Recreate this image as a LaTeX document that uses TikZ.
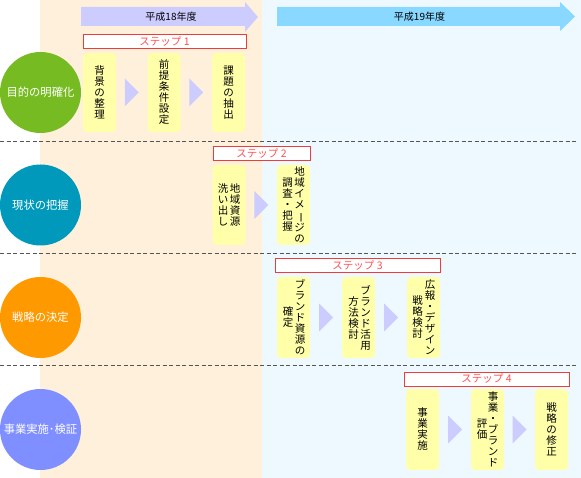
\documentclass[tikz,border=0pt]{standalone}
\usepackage{fontspec}
\usepackage{graphicx}
\setmainfont{Noto Sans CJK JP}
\newfontfamily\jp{Noto Sans CJK JP}
\usetikzlibrary{calc}
\definecolor{beigebg}{HTML}{FFF0DC}
\definecolor{bluebg}{HTML}{EEF9FF}
\definecolor{arrowA}{HTML}{CCCCFF}
\definecolor{arrowB}{HTML}{88D8FF}
\definecolor{yellowbox}{HTML}{FFFFAA}
\definecolor{tricol}{HTML}{CCCCFF}
\definecolor{stepred}{HTML}{EE3B3B}
\definecolor{steptext}{HTML}{FF5050}
\definecolor{cgreen}{HTML}{77BB22}
\definecolor{cteal}{HTML}{0099BB}
\definecolor{corange}{HTML}{FF9900}
\definecolor{cblue}{HTML}{7F8FFF}
\definecolor{dashgray}{HTML}{555555}
\newcommand\flowtri[2]{%
  \path ($(#1.east)!0.5!(#2.west)$) coordinate (m#1#2);
  \fill[tricol] ($(m#1#2)+(-7,-14)$) -- ($(m#1#2)+(7,0)$) -- ($(m#1#2)+(-7,14)$) -- cycle;}
\newcommand\vbar{\rotatebox[origin=c]{-90}{ー}}
\begin{document}
\begin{tikzpicture}[x=1pt,y=-1pt,
  phase/.style={circle,minimum size=81pt,inner sep=0pt,text=white,font=\jp\fontsize{11.3}{12}\selectfont},
  task/.style={fill=yellowbox,rounded corners=4pt,minimum width=33pt,minimum height=80pt,inner sep=0pt},
  vcol/.style={align=center,inner sep=0pt,font=\jp\fontsize{10.5}{11}\selectfont},
  stepbox/.style={draw=stepred,line width=1pt,fill=white,inner sep=0pt,minimum height=14pt,text=steptext,font=\jp\fontsize{10.5}{12}\selectfont},
  sep/.style={draw=dashgray,line width=1pt,dash pattern=on 4pt off 2.5pt},
  yeartext/.style={font=\jp\fontsize{10}{12}\selectfont,inner sep=0pt},
]
\useasboundingbox (0,0) rectangle (581,478);
% backgrounds
\fill[beigebg] (40,0) rectangle (262,478);
\fill[bluebg] (262,0) rectangle (581,478);
% year arrows
\fill[arrowA] (81,7) -- (245,7) -- (245,2) -- (258,17) -- (245,32) -- (245,26) -- (81,26) -- cycle;
\node[yeartext] (y18) at (171,16.5) {平成18年度};
\fill[arrowB] (277,7) -- (560,7) -- (560,2) -- (575,16.5) -- (560,31) -- (560,26) -- (277,26) -- cycle;
\node[yeartext] (y19) at (419.5,16.5) {平成19年度};
% separators
\draw[sep] (0,141.5) -- (578,141.5);
\draw[sep] (0,254) -- (578,254);
\draw[sep] (0,365.5) -- (578,365.5);
% phases
\node[phase,fill=cgreen] (p1) at (40.5,92.5) {目的の明確化};
\node[phase,fill=cteal] (p2) at (40.5,205) {現状の把握};
\node[phase,fill=corange] (p3) at (40.5,317.5) {戦略の決定};
\node[phase,fill=cblue] (p4) at (40.5,429.5) {事業実施･検証};
% step boxes
\node[stepbox,minimum width=163pt] (s1) at (164.5,42) {ステップ 1};
\node[stepbox,minimum width=97pt] (s2) at (261.5,154) {ステップ 2};
\node[stepbox,minimum width=165pt] (s3) at (357.5,265.5) {ステップ 3};
\node[stepbox,minimum width=165pt] (s4) at (486.5,379) {ステップ 4};
% row 1
\node[task,minimum height=79pt] (a1) at (99.5,92.5) {};
\node[task,minimum height=79pt] (a2) at (164,92.5) {};
\node[task,minimum height=79pt] (a3) at (228.5,92.5) {};
\node[vcol] (a1t) at (a1) {背\\景\\の\\整\\理};
\node[vcol] (a2t) at (a2) {前\\提\\条\\件\\設\\定};
\node[vcol] (a3t) at (a3) {課\\題\\の\\抽\\出};
\flowtri{a1}{a2}
\flowtri{a2}{a3}
% row 2
\node[task] (b1) at (229,205) {};
\node[task] (b2) at (293.5,205) {};
\node[vcol] (b1r) at ($(b1)+(6,0)$) {地\\域\\資\\源};
\node[vcol] (b1l) at ($(b1)+(-6,0)$) {洗\\い\\出\\し};
\node[vcol] (b2r) at ($(b2)+(6,0)$) {地\\域\\イ\\メ\\\vbar\\ジ\\の};
\node[vcol] (b2l) at ($(b2)+(-6,0)$) {調\\査\\・\\把\\握};
\flowtri{b1}{b2}
% row 3
\node[task,minimum height=81pt] (c1) at (293.5,317.5) {};
\node[task,minimum height=81pt] (c2) at (358.5,317.5) {};
\node[task,minimum height=81pt] (c3) at (423.5,317.5) {};
\node[vcol] (c1r) at ($(c1)+(6.5,0)$) {ブ\\ラ\\ン\\ド\\資\\源\\の};
\node[vcol] (c1l) at ($(c1)+(-5.5,0)$) {確\\定};
\node[vcol] (c2r) at ($(c2)+(7,0)$) {ブ\\ラ\\ン\\ド\\活\\用};
\node[vcol] (c2l) at ($(c2)+(-5,0)$) {方\\法\\検\\討};
\node[vcol] (c3r) at ($(c3)+(6.5,0)$) {広\\報\\・\\デ\\ザ\\イ\\ン};
\node[vcol] (c3l) at ($(c3)+(-6,0)$) {戦\\略\\検\\討};
\flowtri{c1}{c2}
\flowtri{c2}{c3}
% row 4
\node[task,minimum height=81pt] (d1) at (422.5,429.5) {};
\node[task,minimum height=81pt] (d2) at (487.5,429.5) {};
\node[task,minimum height=81pt] (d3) at (551.5,429.5) {};
\node[vcol] (d1t) at (d1) {事\\業\\実\\施};
\node[vcol] (d2r) at ($(d2)+(5.5,0)$) {事\\業\\・\\ブ\\ラ\\ン\\ド};
\node[vcol] (d2l) at ($(d2)+(-5.5,0)$) {評\\価};
\node[vcol] (d3t) at (d3) {戦\\略\\の\\修\\正};
\flowtri{d1}{d2}
\flowtri{d2}{d3}
\end{tikzpicture}
\end{document}
